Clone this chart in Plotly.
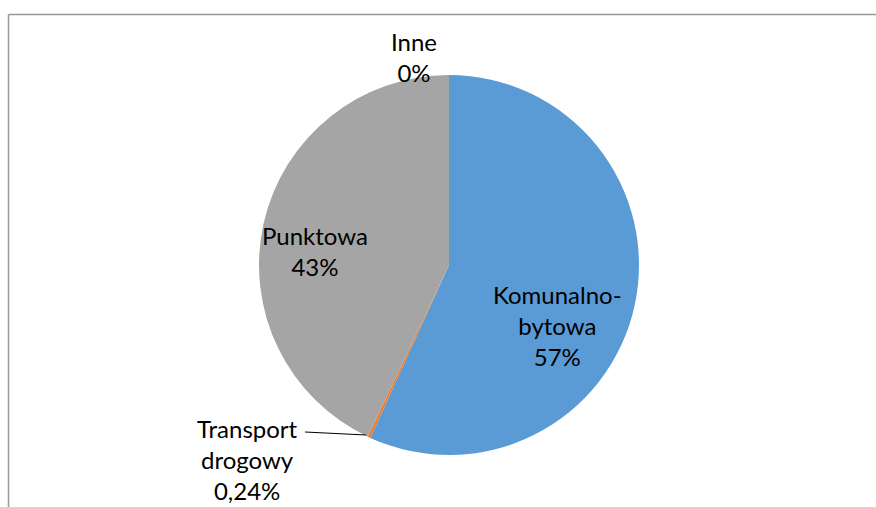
import plotly.graph_objects as go

categories = ["Komunalno-bytowa", "Transport drogowy", "Punktowa", "Inne"]
values = [56.8, 0.24, 42.96, 0.0]
label_texts = ["Komunalno-<br>bytowa<br>57%", "Transport<br>drogowy<br>0,24%", "Punktowa<br>43%", "Inne<br>0%"]
colors = ["#5B9BD5", "#ED7D31", "#A5A5A5", "#FFC000"]

W, H = 876, 507
cx, cy, r = 449, 265, 190

fig = go.Figure(go.Pie(
    labels=categories, values=values, sort=False, direction="clockwise", rotation=0,
    marker=dict(colors=colors, line=dict(width=0)),
    textinfo="none", hoverinfo="label+percent", showlegend=False,
    domain=dict(x=[(cx - r) / W, (cx + r) / W], y=[(H - cy - r) / H, (H - cy + r) / H]),
))

label_pos = [(557, 325), (247, 459), (315, 251), (414, 57)]
font = dict(family="Lato, Open Sans, sans-serif", size=24, color="#000000")
for txt, (px, py) in zip(label_texts, label_pos):
    fig.add_annotation(x=px / W, y=1 - py / H, xref="paper", yref="paper", text=txt,
                       showarrow=False, font=font, align="center", xanchor="center", yanchor="middle")

# leader line for Transport drogowy
fig.add_shape(type="line", xref="paper", yref="paper",
              x0=305 / W, y0=1 - 432 / H, x1=366 / W, y1=1 - 435 / H,
              line=dict(color="#000000", width=1.2))
# chart frame (partially visible)
fig.add_shape(type="line", xref="paper", yref="paper", x0=8.5 / W, y0=1 - 14.5 / H, x1=1, y1=1 - 14.5 / H,
              line=dict(color="#999999", width=1.5))
fig.add_shape(type="line", xref="paper", yref="paper", x0=8.5 / W, y0=1 - 14.5 / H, x1=8.5 / W, y1=0,
              line=dict(color="#999999", width=1.5))

fig.update_layout(width=W, height=H, margin=dict(l=0, r=0, t=0, b=0),
                  paper_bgcolor="white", plot_bgcolor="white")
fig.write_html("out.html", config={"displayModeBar": False},
               post_script="document.body.style.margin='0';document.body.style.overflow='hidden';")
